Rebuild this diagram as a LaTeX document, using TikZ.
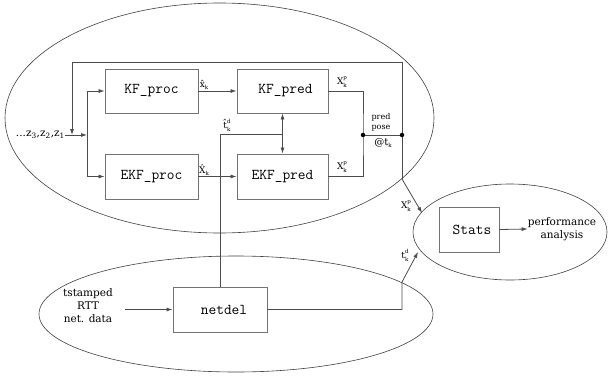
\documentclass[tikz,border=0pt]{standalone}
\usepackage{fontspec}
\setmainfont{DejaVu Serif}
\usetikzlibrary{arrows.meta}
\newcommand\supsub[3]{#1\raisebox{-2.4pt}{\fontsize{5.5}{7.2}\selectfont\begin{tabular}[b]{@{}l@{}}#2\\#3\end{tabular}}}
\newcommand\subk[1]{#1\raisebox{-2pt}{\fontsize{5.5}{6}\selectfont k}}
\tikzset{
  x=1pt, y=-1pt,
  blk/.style={draw=black!55, line width=0.9pt, minimum width=93pt, minimum height=44pt, inner sep=0pt, font=\ttfamily\fontsize{15}{17}\selectfont},
  ln/.style={draw=black!70, line width=0.8pt},
  arr/.style={ln, -{Latex[length=6pt,width=4pt]}},
  darr/.style={ln, {Latex[length=6pt,width=4pt]}-{Latex[length=6pt,width=4pt]}},
  oval/.style={draw=black!75, line width=0.6pt},
  lbl/.style={inner sep=0pt, font=\fontsize{9}{10}\selectfont},
  txt/.style={inner sep=0pt, align=center, font=\fontsize{10.5}{13}\selectfont},
  dot/.style={circle, fill=black, inner sep=0pt, minimum size=4.5pt},
}
\begin{document}
\begin{tikzpicture}
\useasboundingbox (0,0) rectangle (609,377);
% ovals
\draw[oval] (219.5,118) ellipse [x radius=214.5pt, y radius=115pt];
\draw[oval] (236,314) ellipse [x radius=197pt, y radius=58pt];
\draw[oval] (510,232) ellipse [x radius=97pt, y radius=48pt];
% boxes
\node[blk] (KFproc) at (151.5,91) {KF\_proc};
\node[blk, minimum width=91pt] (KFpred) at (282.5,91) {\hspace*{6pt}KF\_pred};
\node[blk, minimum height=45pt] (EKFproc) at (151.5,176.5) {EKF\_proc};
\node[blk, minimum width=91pt, minimum height=45pt] (EKFpred) at (282.5,176.5) {EKF\_pred};
\node[blk, minimum width=60pt, minimum height=45pt] (Stats) at (469,229.5) {\hspace*{6pt}Stats};
\node[blk, minimum width=94pt, minimum height=45pt] (netdel) at (220,309.5) {\hspace*{8pt}netdel};
% texts
\node[txt, anchor=east, font=\fontsize{10.5}{12}\selectfont] (zin) at (65,135) {...z\textsubscript{3},z\textsubscript{2},z\textsubscript{1}};
\node[txt] (ts) at (88,306) {tstamped\\RTT\\net. data};
\node[txt] (perf) at (562,229) {performance\\analysis};
% coordinates
\coordinate (br) at (87,135);
\coordinate (fbin) at (72,135);
\coordinate (fbtop) at (402,62);
\coordinate (jn) at (363,135);
\coordinate (fb) at (402,135);
\coordinate (fbexit) at (402,179);
\coordinate (fbend) at (422,213);
\coordinate (tj) at (282,134);
\coordinate (tdup) at (402,282);
\coordinate (tdend) at (418,252);
\coordinate (tsout) at (125,309.5);
% connectors
\draw[arr] (zin.east) -- (br);
\draw[arr] (br) |- (KFproc.west);
\draw[arr] (br) |- (EKFproc.west);
\draw[arr] (KFproc.east) -- (KFpred.west);
\draw[arr] (EKFproc.east) -- (EKFpred.west);
\draw[ln] (KFpred.east) -| (jn) |- (EKFpred.east);
\draw[ln] (jn) -- (fb);
\draw[arr] (fb) -- (fbtop) -| (fbin);
\draw[ln] (fb) -- (fbexit);
\draw[arr] (fbexit) -- (fbend);
\draw[darr] (KFpred.south) -- (EKFpred.north);
\draw[ln] (tj) -| (netdel.north);
\draw[arr] (tsout) -- (netdel.west);
\draw[arr] (netdel.east) -| (tdup) -- (tdend);
\draw[arr] (Stats.east) -- (perf.west);
\node[dot] at (jn) {};
\node[dot] at (fb) {};
% labels
\node[lbl] at (204,85) {\subk{\^{x}}};
\node[lbl] at (204,170) {\subk{\^{X}}};
\node[lbl] at (342,82) {\supsub{X}{p}{k}};
\node[lbl] at (342,167) {\supsub{X}{p}{k}};
\node[lbl] at (227,126) {\supsub{\^{t}}{d}{k}};
\node[lbl, align=center, font=\fontsize{8}{10}\selectfont] at (381,122) {pred\\pose};
\node[lbl, font=\fontsize{10}{12}\selectfont] at (383,143) {@\subk{t}};
\node[lbl] at (406,206) {\supsub{X}{p}{k}};
\node[lbl] at (405,256) {\supsub{t}{d}{k}};
\end{tikzpicture}
\end{document}
